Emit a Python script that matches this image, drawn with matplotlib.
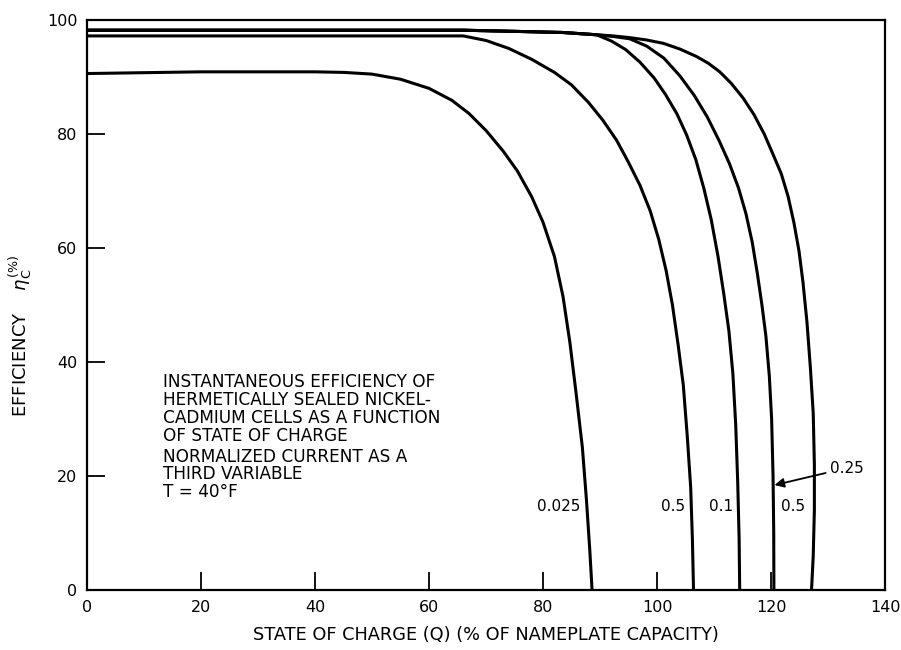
import matplotlib
matplotlib.use("Agg")
import matplotlib.pyplot as plt

# curves: state of charge (Q, %) vs efficiency (%)
q_0025 = [0, 20, 40, 45, 50, 55, 60, 64, 67, 70, 73, 75.5, 78, 80, 82, 83.5, 84.7, 85.8,
          86.9, 87.6, 88.2, 88.6]
eta_0025 = [90.6, 90.9, 90.9, 90.8, 90.5, 89.6, 88.0, 85.9, 83.6, 80.6, 77.0, 73.5, 69.0, 64.5,
            58.5, 51.5, 43.5, 34.5, 25.0, 16.0, 7.0, 0]

q_050a = [0, 40, 66, 70, 74, 78, 82, 85, 88, 90.5, 92.9, 95.0, 97.0, 98.8, 100.3, 101.6,
          102.7, 103.7, 104.6, 105.3, 105.9, 106.2, 106.4]
eta_050a = [97.2, 97.2, 97.2, 96.4, 95.0, 93.1, 90.8, 88.6, 85.5, 82.4, 78.9, 75.0, 71.0, 66.5,
            61.5, 56.0, 50.0, 43.0, 36.0, 27.0, 18.0, 9.0, 0]

q_010 = [0, 66, 75, 83.5, 89.4, 92.0, 94.5, 97.0, 99.5, 101.5, 103.5, 105.2, 106.8, 108.2,
         109.5, 110.7, 111.7, 112.6, 113.3, 113.8, 114.15, 114.4, 114.5]
eta_010 = [98.2, 98.2, 98.0, 97.8, 97.4, 96.3, 94.8, 92.6, 89.8, 86.9, 83.5, 79.8, 75.5, 70.5,
           65.0, 58.5, 52.0, 45.5, 38.0, 29.0, 19.0, 9.0, 0]

q_025 = [0, 66, 75, 83.5, 89.4, 92.3, 95.2, 98.2, 101.2, 104.0, 106.5, 108.8, 110.9, 112.7,
         114.3, 115.6, 116.7, 117.6, 118.4, 119.1, 119.7, 120.1, 120.35, 120.47, 120.5]
eta_025 = [98.2, 98.2, 98.0, 97.8, 97.4, 97.1, 96.7, 95.4, 93.3, 90.2, 86.8, 83.0, 78.8, 74.8,
           70.5, 66.0, 61.0, 55.5, 50.0, 44.5, 37.5, 30.0, 20.0, 10.0, 0]

q_050b = [0, 66, 75, 83.5, 89.4, 92.3, 95.2, 98.1, 101.1, 104.0, 106.9, 109.0, 111.0, 113.0,
          115.1, 117.0, 118.8, 120.4, 121.8, 123.0, 124.0, 124.9, 125.6, 126.3, 126.9, 127.4,
          127.6, 127.6, 127.4, 127.1]
eta_050b = [98.2, 98.2, 98.0, 97.8, 97.4, 97.2, 96.9, 96.5, 95.9, 94.9, 93.6, 92.4, 90.9, 88.9,
            86.3, 83.4, 80.0, 76.3, 73.0, 69.0, 64.5, 59.5, 54.0, 47.0, 39.0, 31.0,
            22.0, 14.0, 6.0, 0]

x_ticks = [0, 20, 40, 60, 80, 100, 120, 140]
y_ticks = [0, 20, 40, 60, 80, 100]

note_lines = ["INSTANTANEOUS EFFICIENCY OF",
              "HERMETICALLY SEALED NICKEL-",
              "CADMIUM CELLS AS A FUNCTION",
              "OF STATE OF CHARGE",
              "NORMALIZED CURRENT AS A",
              "THIRD VARIABLE",
              "T = 40°F"]
note_y = [36.5, 33.3, 30.2, 27.0, 23.3, 20.4, 17.2]

plt.rcParams['font.family'] = ['DejaVu Sans']

fig = plt.figure(figsize=(9.01, 6.5), dpi=100)
ax = fig.add_axes([0.0966, 0.0923, 0.8857, 0.877])

for q, eta in [(q_0025, eta_0025), (q_050a, eta_050a), (q_010, eta_010),
               (q_025, eta_025), (q_050b, eta_050b)]:
    ax.plot(q, eta, color='black', lw=2.2, solid_joinstyle='round')

ax.set_xlim(0, 140)
ax.set_ylim(0, 100)
ax.set_xticks(x_ticks)
ax.set_yticks(y_ticks)
ax.tick_params(direction='in', length=13, width=1.3, labelsize=11.5, pad=7)
for s in ax.spines.values():
    s.set_linewidth(1.6)

ax.set_xlabel("STATE OF CHARGE (Q) (% OF NAMEPLATE CAPACITY)", fontsize=12.8, labelpad=8)
ax.set_ylabel(r"EFFICIENCY $\ \ \ \eta_{\mathrm{C}}^{(\%)}$", fontsize=13)
ax.yaxis.set_label_coords(-0.067, 0.445)

for line, yy in zip(note_lines, note_y):
    ax.text(13.4, yy, line, fontsize=12.2, ha='left', va='center')

# curve labels
ax.text(86.6, 14.6, "0.025", fontsize=11, ha='right', va='center')
ax.text(104.9, 14.6, "0.5", fontsize=11, ha='right', va='center')
ax.text(113.4, 14.6, "0.1", fontsize=11, ha='right', va='center')
ax.text(121.8, 14.6, "0.5", fontsize=11, ha='left', va='center')
ax.annotate("0.25", xy=(120.6, 18.4), xytext=(130.3, 21.4), fontsize=11,
            ha='left', va='center',
            arrowprops=dict(arrowstyle='-|>', color='black', lw=1.3,
                            mutation_scale=14, shrinkA=1, shrinkB=0))

fig.savefig("out.png", dpi=100, facecolor='white')
